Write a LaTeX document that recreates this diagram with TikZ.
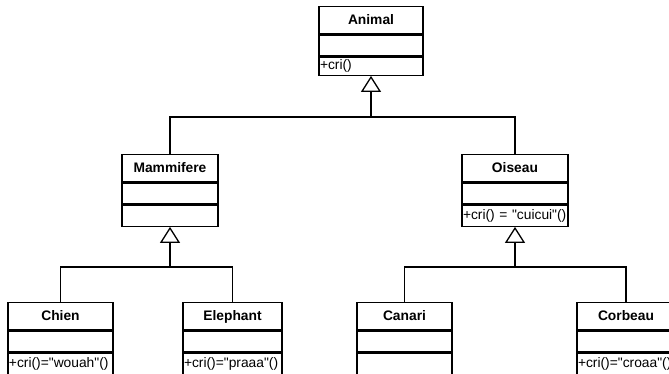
\documentclass[tikz,border=0pt]{standalone}
\usepackage{fontspec}
\setmainfont{Liberation Sans}[Ligatures=TeXOff]
\usetikzlibrary{arrows.meta,positioning}

\begin{document}
\begin{tikzpicture}[x=1pt, y=-1pt, inner xsep=1pt, inner ysep=1pt, font=\fontsize{13.8}{15}\selectfont]
    \tikzstyle{nom}=[rectangle, draw=black, line width=1.3pt, minimum height=27pt, text height=10pt, text depth=1pt, font=\fontsize{13.8}{15}\selectfont\bfseries, anchor=north]
    \tikzstyle{casier}=[rectangle, draw=black, line width=1.3pt, minimum height=21pt, text height=10pt, text depth=3pt, align=left]
    \tikzstyle{lien}=[line width=1.3pt]
    \tikzstyle{herite}=[-{Triangle[open, length=16pt, width=20pt]}, line width=1.3pt]

    \useasboundingbox (0,0) rectangle (669,373);

    % classe mere
    \node[nom, minimum width=104pt] (Animal) at (371,6) {Animal};
    \node[casier, text width=102pt] (Animal-a) [below=0pt of Animal] {};
    \node[casier, text width=102pt, minimum height=18pt] (Animal-m) [below=0pt of Animal-a] {+cri()};

    % niveau 2
    \node[nom, minimum width=96pt] (Mammifere) at (170,154) {Mammifere};
    \node[casier, text width=94pt] (Mammifere-a) [below=0pt of Mammifere] {};
    \node[casier, text width=94pt] (Mammifere-m) [below=0pt of Mammifere-a] {};

    \node[nom, minimum width=106pt] (Oiseau) at (515,154) {Oiseau};
    \node[casier, text width=104pt] (Oiseau-a) [below=0pt of Oiseau] {};
    \node[casier, text width=104pt] (Oiseau-m) [below=0pt of Oiseau-a] {+cri() = "cuicui"()};

    % niveau 3
    \node[nom, minimum width=105pt] (Chien) at (60.5,302) {Chien};
    \node[casier, text width=103pt] (Chien-a) [below=0pt of Chien] {};
    \node[casier, text width=103pt] (Chien-m) [below=0pt of Chien-a] {+cri()="wouah"()};

    \node[nom, minimum width=99pt] (Elephant) at (232.5,302) {Elephant};
    \node[casier, text width=97pt] (Elephant-a) [below=0pt of Elephant] {};
    \node[casier, text width=97pt] (Elephant-m) [below=0pt of Elephant-a] {+cri()="praaa"()};

    \node[nom, minimum width=95pt] (Canari) at (404.5,302) {Canari};
    \node[casier, text width=93pt] (Canari-a) [below=0pt of Canari] {};
    \node[casier, text width=93pt] (Canari-m) [below=0pt of Canari-a] {};

    \node[nom, minimum width=98pt] (Corbeau) at (626,302) {Corbeau};
    \node[casier, text width=96pt] (Corbeau-a) [below=0pt of Corbeau] {};
    \node[casier, text width=96pt] (Corbeau-m) [below=0pt of Corbeau-a] {+cri()="croaa"()};

    % heritage
    \coordinate (jA) at (371,117);
    \coordinate (jM) at (170,267);
    \coordinate (jO) at (515,267);

    \draw[lien] (Mammifere.north) |- (jA) -| (Oiseau.north);
    \draw[herite] (jA) -- (Animal-m.south);
    \draw[lien] (Chien.north) |- (jM) -| (Elephant.north);
    \draw[herite] (jM) -- (Mammifere-m.south);
    \draw[lien] (Canari.north) |- (jO) -| (Corbeau.north);
    \draw[herite] (jO) -- (Oiseau-m.south);
\end{tikzpicture}
\end{document}
